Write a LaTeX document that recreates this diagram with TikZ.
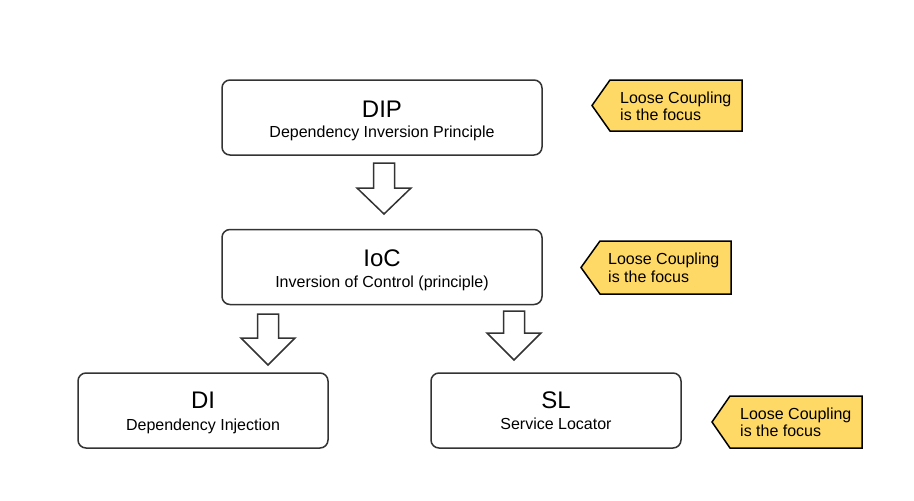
\documentclass[tikz,border=0pt]{standalone}
\usepackage{fontspec}
\setmainfont{Liberation Sans}
\definecolor{calloutfill}{HTML}{FFD966}
\definecolor{linegray}{HTML}{333333}
\begin{document}
\begin{tikzpicture}[x=1pt,y=-1pt,
  box/.style={draw=linegray, line width=1.5pt, rounded corners=8pt, fill=white, minimum height=75pt, inner sep=0pt},
  bigbox/.style={box, minimum width=320pt},
  smallbox/.style={box, minimum width=250pt},
  titletext/.style={anchor=base, inner sep=0pt, font=\fontsize{24pt}{28pt}\selectfont},
  subtext/.style={anchor=base, inner sep=0pt, font=\fontsize{16pt}{19pt}\selectfont},
  calltext/.style={anchor=base west, inner sep=0pt, font=\fontsize{16pt}{19pt}\selectfont},
  blockarrow/.style={draw=linegray, line width=1.5pt, fill=white, line join=miter},
  callout/.style={draw=black, line width=1.5pt, fill=calloutfill, line join=miter}
]
\useasboundingbox (0,0) rectangle (914,501);

% boxes
\node[bigbox] (dip) at (382,117.5) {};
\node[titletext] (diptitle) at (382,117) {DIP};
\node[subtext] (dipsub) at (382,137.5) {Dependency Inversion Principle};

\node[bigbox] (ioc) at (382,267) {};
\node[titletext] (ioctitle) at (382,266.5) {IoC};
\node[subtext] (iocsub) at (382,287) {Inversion of Control (principle)};

\node[smallbox] (di) at (203,410.5) {};
\node[titletext] (dititle) at (203,408.5) {DI};
\node[subtext] (disub) at (203,430) {Dependency Injection};

\node[smallbox] (sl) at (556,410.5) {};
\node[titletext] (sltitle) at (556,408.5) {SL};
\node[subtext] (slsub) at (556,429.5) {Service Locator};

% block arrows
\draw[blockarrow] (373.5,163) -- (394.5,163) -- (394.5,188) -- (411,188) -- (384,214) -- (357,188) -- (373.5,188) -- cycle;
\draw[blockarrow] (257.5,314) -- (278.5,314) -- (278.5,338) -- (295,338) -- (268,365) -- (241,338) -- (257.5,338) -- cycle;
\draw[blockarrow] (503.5,311) -- (524.5,311) -- (524.5,333) -- (541,333) -- (514,360) -- (487,333) -- (503.5,333) -- cycle;

% callouts
\draw[callout] (592,105.5) -- (610,80) -- (742,80) -- (742,131) -- (610,131) -- cycle;
\node[calltext] (c1a) at (620,103) {Loose Coupling};
\node[calltext] (c1b) at (620,120.5) {is the focus};

\draw[callout] (581,267.5) -- (600,241) -- (731,241) -- (731,294) -- (600,294) -- cycle;
\node[calltext] (c2a) at (608,264.5) {Loose Coupling};
\node[calltext] (c2b) at (608,282) {is the focus};

\draw[callout] (712,422) -- (730,396) -- (862,396) -- (862,448) -- (730,448) -- cycle;
\node[calltext] (c3a) at (740,419) {Loose Coupling};
\node[calltext] (c3b) at (740,436.5) {is the focus};
\end{tikzpicture}
\end{document}
